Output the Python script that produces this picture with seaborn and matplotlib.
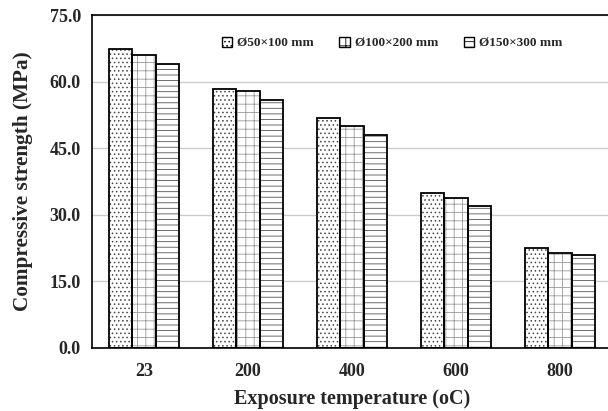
import pandas as pd
import seaborn as sns
import matplotlib.pyplot as plt
from matplotlib.patches import Rectangle
from matplotlib.ticker import FixedLocator

temps = ["23", "200", "400", "600", "800"]
sizes = ["Ø50×100 mm", "Ø100×200 mm", "Ø150×300 mm"]
s50 = [67.4, 58.4, 51.9, 35.0, 22.6]
s100 = [65.9, 57.8, 50.1, 33.7, 21.5]
s150 = [63.9, 55.8, 48.0, 31.9, 21.0]

rows = []
for vals, name in zip([s50, s100, s150], sizes):
    for t, v in zip(temps, vals):
        rows.append({"temp": t, "size": name, "strength": v})
df = pd.DataFrame(rows)

sns.set_style("white")
plt.rcParams['font.family'] = ['Liberation Serif', 'DejaVu Serif']
plt.rcParams['font.weight'] = 'bold'
plt.rcParams['hatch.linewidth'] = 0.6

fig = plt.figure(figsize=(6.08, 4.11), dpi=100)
ax = fig.add_axes([0.1513, 0.1533, 0.8553, 0.8102])

sns.barplot(data=df, x="temp", y="strength", hue="size", order=temps,
            hue_order=sizes, palette=["white"] * 3, width=0.67,
            edgecolor="black", linewidth=1.3, ax=ax, zorder=3)

hatches = ["....", "++", "---"]
hcolors = ["#444444", "#999999", "#555555"]

# hatch drawn in its own colour, black outline on top
for cont, h, c in zip(ax.containers, hatches, hcolors):
    for p in cont:
        p.set_hatch(h)
        p.set_facecolor("white")
        p.set_edgecolor(c)
        p.set_linewidth(0)
        ax.add_patch(Rectangle(p.get_xy(), p.get_width(), p.get_height(),
                               fill=False, ec="black", lw=1.3, zorder=4))

ax.set_ylim(0, 75)
ax.set_xlim(-0.5, 4.5)
ax.set_yticks([0, 15, 30, 45, 60, 75])
ax.set_yticklabels(["0.0", "15.0", "30.0", "45.0", "60.0", "75.0"])
ax.yaxis.grid(True, color="#cccccc", linewidth=1, zorder=0)
ax.set_axisbelow(True)
ax.tick_params(axis="x", which="major", length=0, labelsize=13, pad=11)
ax.tick_params(axis="y", length=0, labelsize=13, pad=8)
ax.xaxis.set_minor_locator(FixedLocator([-0.5, 0.5, 1.5, 2.5, 3.5, 4.5]))
ax.tick_params(axis="x", which="minor", length=6, width=1, direction="out")
for lab in ax.get_xticklabels() + ax.get_yticklabels():
    lab.set_fontweight("bold")

for s in ["left", "bottom", "top"]:
    ax.spines[s].set_color("black")
    ax.spines[s].set_linewidth(1.2)
    ax.spines[s].set_zorder(5)
ax.spines["right"].set_visible(False)

ax.set_xlabel("Exposure temperature (oC)", fontsize=14.5, fontweight="bold", labelpad=6)
ax.set_ylabel("Compressive strength (MPa)", fontsize=15.3, fontweight="bold", labelpad=12)

handles, labels = ax.get_legend_handles_labels()
for hnd, h in zip(handles, hatches):
    hnd.set_hatch(h)
    hnd.set_facecolor("white")
    hnd.set_edgecolor("black")
    hnd.set_linewidth(1)
ax.legend(handles, labels, loc="upper left", bbox_to_anchor=(0.2265, 0.97), ncol=3,
          frameon=False, handlelength=0.8, handleheight=0.8,
          columnspacing=1.9, handletextpad=0.4, prop={"weight": "bold", "size": 9.5})

fig.savefig("out.png", dpi=100)
